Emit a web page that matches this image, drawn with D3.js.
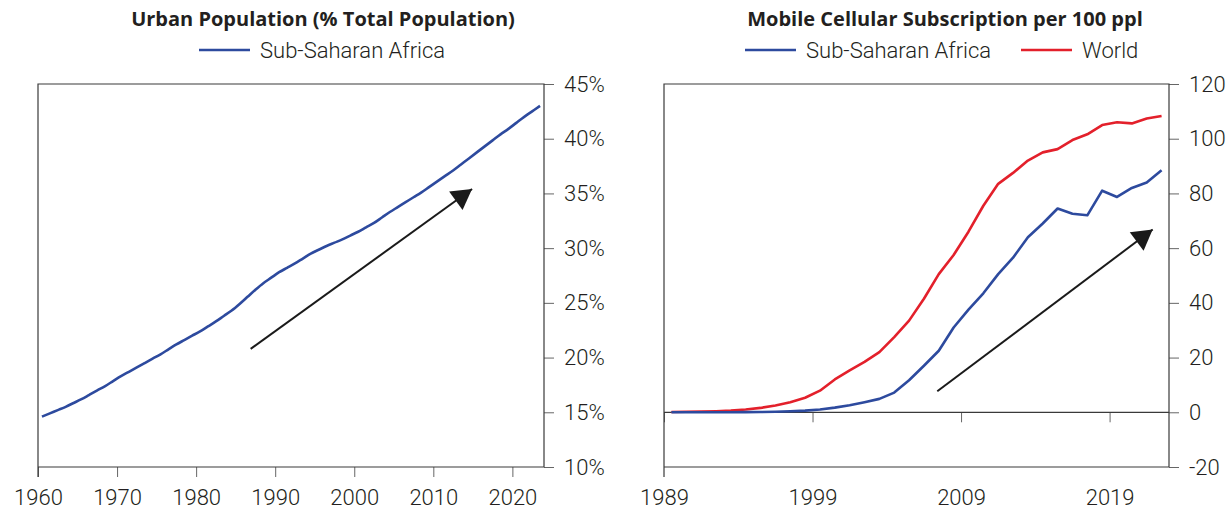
<!DOCTYPE html>
<meta charset="utf-8">
<style>
    body {
        margin:0;
        background:#fff;
        font-family:'Roboto', sans-serif;
    }
    .tick text { font-family:'Roboto'; font-weight:300; font-size:22px; fill:#231f20; }
    .title { font-family:'Open Sans'; font-weight:700; font-size:20px; fill:#231f20; }
    .legend { font-family:'Roboto'; font-weight:300; font-size:22px; fill:#231f20; }
</style>
<body>
<script src="https://cdn.jsdelivr.net/npm/d3@7"></script>
<script>
var width = 1227, height = 512;

// urban population, % of total, Sub-Saharan Africa
var urbanYears = d3.range(1960, 2024);
var urbanSSA = [14.6, 14.9, 15.2, 15.5, 15.85, 16.2, 16.6, 17.0, 17.4, 17.85,
    18.3, 18.7, 19.1, 19.5, 19.9, 20.3, 20.75, 21.2, 21.6, 22.0,
    22.4, 22.85, 23.3, 23.8, 24.3, 24.9, 25.55, 26.2, 26.8, 27.3,
    27.8, 28.2, 28.6, 29.05, 29.5, 29.85, 30.2, 30.5, 30.8, 31.15,
    31.5, 31.9, 32.3, 32.8, 33.3, 33.75, 34.2, 34.65, 35.1, 35.6,
    36.1, 36.6, 37.1, 37.65, 38.2, 38.75, 39.3, 39.85, 40.4, 40.9,
    41.45, 42.0, 42.5, 43.0];
var urbanTicksX = [1960, 1970, 1980, 1990, 2000, 2010, 2020];
var urbanTicksY = [10, 15, 20, 25, 30, 35, 40, 45];
var urbanArrow = [[1986.9, 20.8], [2014.9, 35.4]];

// mobile cellular subscriptions per 100 people
var mobileYears = d3.range(1989, 2023);
var mobileSSA = [0, 0, 0, 0.02, 0.03, 0.05, 0.1, 0.2, 0.4, 0.6,
    1.0, 1.7, 2.6, 3.7, 4.9, 7.2, 11.7, 17.0, 22.5, 31.0,
    37.5, 43.5, 50.5, 56.5, 64.0, 69.0, 74.5, 72.6, 72.0, 81.0,
    78.7, 82.0, 84.0, 88.5];
var mobileWorld = [0.1, 0.2, 0.3, 0.4, 0.6, 1.0, 1.6, 2.5, 3.7, 5.3,
    7.9, 12.0, 15.3, 18.4, 22.0, 27.5, 33.5, 41.5, 50.5, 57.5,
    66.0, 75.5, 83.5, 87.5, 92.0, 95.0, 96.2, 99.5, 101.6, 105.0,
    106.0, 105.6, 107.4, 108.3];
var mobileTicksX = [1989, 1999, 2009, 2019];
var mobileTicksY = [-20, 0, 20, 40, 60, 80, 100, 120];
var mobileArrow = [[2007.4, 7.7], [2021.9, 66.8]];

var blue = '#2d4a9e', red = '#e3202b', boxColor = '#3a3a3a', tickColor = '#666';

var svg = d3.select('body').append('svg')
    .attr('width', width)
    .attr('height', height);

svg.append('defs').append('marker')
    .attr('id', 'head')
    .attr('markerUnits', 'userSpaceOnUse')
    .attr('viewBox', '-1 -13 23 26')
    .attr('markerWidth', 23)
    .attr('markerHeight', 26)
    .attr('refX', 20)
    .attr('refY', 0)
    .attr('orient', 'auto')
  .append('path')
    .attr('d', 'M0,-11.5L20,0L0,11.5Z')
    .attr('fill', '#1a1a1a');

function panel(opt) {
    var g = svg.append('g');
    var x = d3.scaleLinear().domain(opt.xDomain).range([opt.left, opt.right]);
    var y = d3.scaleLinear().domain(opt.yDomain).range([opt.bottom, opt.top]);

    // title + legend
    g.append('text').attr('class', 'title')
        .attr('x', opt.titleX).attr('y', 26)
        .attr('text-anchor', 'middle')
        .text(opt.title);
    opt.legend.forEach(function(l) {
        g.append('line')
            .attr('x1', l.x).attr('x2', l.x + 51)
            .attr('y1', 50).attr('y2', 50)
            .attr('stroke', l.color).attr('stroke-width', 2.5);
        g.append('text').attr('class', 'legend')
            .attr('x', l.x + 61).attr('y', 58)
            .text(l.name);
    });

    // right axis
    g.append('g')
        .attr('transform', 'translate(' + opt.right + ',0)')
        .call(d3.axisRight(y).tickValues(opt.yTicks).tickSize(10).tickPadding(10)
            .tickFormat(opt.yFormat))
        .call(function(a) {
            a.select('.domain').remove();
            a.selectAll('.tick line').attr('stroke', tickColor);
        });

    // bottom labels
    g.append('g')
        .attr('transform', 'translate(0,' + opt.bottom + ')')
        .call(d3.axisBottom(x).tickValues(opt.xTicks).tickSize(opt.zeroAxis ? 0 : 10)
            .tickPadding(opt.zeroAxis ? 22 : 12).tickFormat(d3.format('d')))
        .call(function(a) {
            a.select('.domain').remove();
            a.selectAll('.tick line').attr('stroke', tickColor);
        });

    if (opt.zeroAxis) {
        g.append('g')
            .attr('transform', 'translate(0,' + y(0) + ')')
            .call(d3.axisBottom(x).tickValues(opt.xTicks).tickSize(10).tickFormat(''))
            .call(function(a) {
                a.select('.domain').remove();
                a.selectAll('.tick line').attr('stroke', tickColor);
            });
        g.append('line')
            .attr('x1', opt.left).attr('x2', opt.right)
            .attr('y1', y(0)).attr('y2', y(0))
            .attr('stroke', boxColor).attr('stroke-width', 1.2);
    }

    // box
    g.append('path')
        .attr('d', 'M' + opt.left + ',' + (opt.bottom + 10) + 'V' + opt.top + 'H' + opt.right +
            'V' + opt.bottom + 'H' + opt.left)
        .attr('fill', 'none')
        .attr('stroke', boxColor)
        .attr('stroke-width', 1.2);

    var line = d3.line()
        .curve(opt.curve || d3.curveLinear)
        .x(function(d) { return x(d[0] + 0.5); })
        .y(function(d) { return y(d[1]); });

    opt.series.forEach(function(s) {
        g.append('path')
            .datum(opt.years.map(function(yr, i) { return [yr, s.values[i]]; }))
            .attr('fill', 'none')
            .attr('stroke', s.color)
            .attr('stroke-width', 2.6)
            .attr('stroke-linejoin', 'round')
            .attr('d', line);
    });

    g.append('line')
        .attr('x1', x(opt.arrow[0][0])).attr('y1', y(opt.arrow[0][1]))
        .attr('x2', x(opt.arrow[1][0])).attr('y2', y(opt.arrow[1][1]))
        .attr('stroke', '#1a1a1a')
        .attr('stroke-width', 2)
        .attr('marker-end', 'url(#head)');
}

panel({
    left: 38, right: 544, top: 84, bottom: 467,
    xDomain: [1960, 2024], yDomain: [10, 45],
    xTicks: urbanTicksX, yTicks: urbanTicksY,
    yFormat: function(d) { return d + '%'; },
    years: urbanYears,
    curve: d3.curveMonotoneX,
    series: [{values: urbanSSA, color: blue}],
    arrow: urbanArrow,
    title: 'Urban Population (% Total Population)', titleX: 323,
    legend: [{x: 199, name: 'Sub-Saharan Africa', color: blue}]
});

panel({
    left: 664, right: 1169, top: 84, bottom: 467,
    xDomain: [1989, 2023], yDomain: [-20, 120],
    xTicks: mobileTicksX, yTicks: mobileTicksY,
    yFormat: function(d) { return String(d); },
    zeroAxis: true,
    years: mobileYears,
    series: [{values: mobileWorld, color: red}, {values: mobileSSA, color: blue}],
    arrow: mobileArrow,
    title: 'Mobile Cellular Subscription per 100 ppl', titleX: 945,
    legend: [{x: 745, name: 'Sub-Saharan Africa', color: blue},
             {x: 1021, name: 'World', color: red}]
});
</script>
</body>
